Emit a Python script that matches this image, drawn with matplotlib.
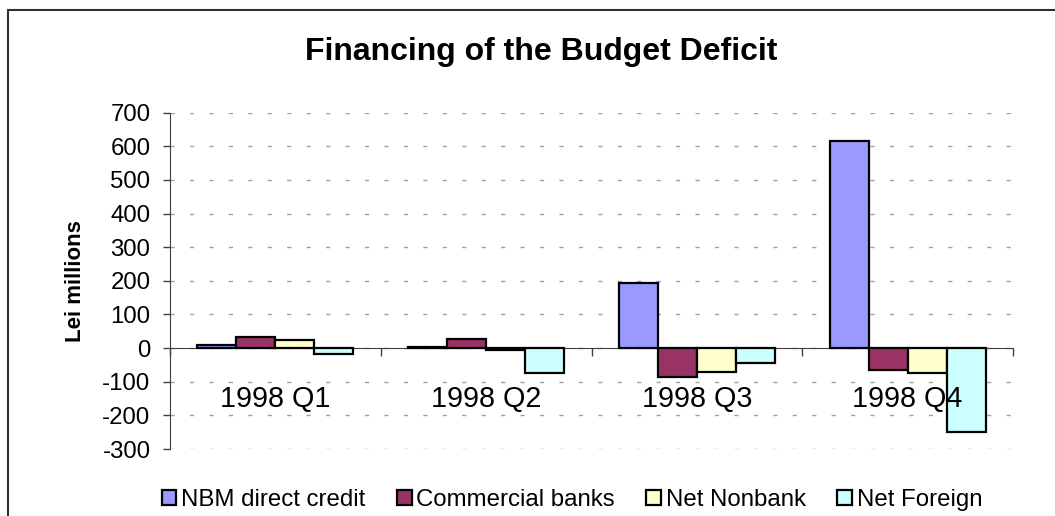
import numpy as np
import matplotlib.pyplot as plt
from matplotlib.patches import Rectangle

plt.rcParams['font.family'] = ['Liberation Sans', 'DejaVu Sans']
plt.rcParams['axes.unicode_minus'] = False

# Data (Lei millions)
quarters = ['1998 Q1', '1998 Q2', '1998 Q3', '1998 Q4']
series_names = ['NBM direct credit', 'Commercial banks', 'Net Nonbank', 'Net Foreign']
nbm_credit = [9, 4, 195, 615]
commercial_banks = [34, 28, -85, -65]
net_nonbank = [25, -6, -70, -75]
net_foreign = [-19, -75, -45, -250]
colors = ['#9999FF', '#993366', '#FFFFCC', '#CCFFFF']

x = np.arange(len(quarters))
width = 0.185

fig = plt.figure(figsize=(10.55, 5.16), dpi=100)
ax = fig.add_axes([170 / 1055, 1 - 449 / 516, (1013 - 170) / 1055, (449 - 112.7) / 516])

all_series = [nbm_credit, commercial_banks, net_nonbank, net_foreign]
for i, (vals, name, col) in enumerate(zip(all_series, series_names, colors)):
    ax.bar(x + (i - 1.5) * width, vals, width, label=name, color=col,
           edgecolor='black', linewidth=1.6, zorder=3)

ax.set_xlim(-0.5, len(quarters) - 0.5)
ax.set_ylim(-300, 700)
ax.set_yticks(np.arange(-300, 701, 100))
ax.tick_params(axis='y', labelsize=17.3, length=5, width=1, direction='out', pad=9, color='#404040')

# tick marks at the group edges; category names go under the zero line, above the bars
ax.set_xticks(np.arange(-0.5, len(quarters), 1))
ax.set_xticklabels([])
ax.tick_params(axis='x', length=6, width=1, direction='out', color='#404040')
for xi, q in zip(x, quarters):
    ax.text(xi, 0.125, q, transform=ax.get_xaxis_transform(), fontsize=20.7,
            ha='center', va='baseline', zorder=5)

ax.spines['top'].set_visible(False)
ax.spines['right'].set_visible(False)
ax.spines['bottom'].set_position(('data', 0))
ax.spines['bottom'].set_color('#404040')
ax.spines['left'].set_color('#404040')

ax.yaxis.grid(True, linestyle=(0, (3, 11)), color='#a0a0a0', linewidth=1)
ax.set_axisbelow(True)

ax.set_ylabel('Lei millions', fontsize=16, fontweight='bold', labelpad=12)

fig.text(541 / 1055, 1 - 52 / 516, 'Financing of the Budget Deficit',
         fontsize=23, fontweight='bold', ha='center', va='center')

fig.legend(loc='center', bbox_to_anchor=(572 / 1055, 1 - 500 / 516), ncol=4,
           frameon=False, fontsize=17.3, handlelength=0.62, handleheight=0.62,
           handletextpad=0.2, columnspacing=1.3, borderpad=0)

# outer chart border
fig.patches.append(Rectangle((8 / 1055, -0.1), 1.1, 1.1 - 10 / 516, fill=False,
                             edgecolor='#303030', linewidth=1.5,
                             transform=fig.transFigure, figure=fig))

fig.savefig('out.png', dpi=100)
